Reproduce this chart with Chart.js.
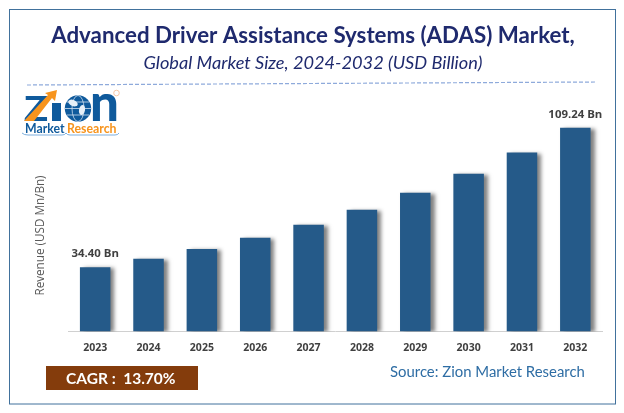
<!DOCTYPE html>
<html><head><meta charset="utf-8">
<style>html,body{margin:0;padding:0;background:#fff}#w{position:relative;width:624px;height:413px}canvas{display:block}</style>
<script src="https://cdn.jsdelivr.net/npm/chart.js@4"></script></head>
<body><div id="w"><canvas id="c" width="624" height="413"></canvas></div>
<script>
const years = ['2023','2024','2025','2026','2027','2028','2029','2030','2031','2032'];
const revenue = [34.40,38.9,44.2,50.2,57.2,65.2,74.3,84.5,95.9,109.24];
const endLabels = {0:'34.40 Bn',9:'109.24 Bn'};
const titleText = 'Advanced Driver Assistance Systems (ADAS) Market,';
const subtitleText = 'Global Market Size, 2024-2032 (USD Billion)';
const yAxisTitle = 'Revenue (USD Mn/Bn)';
const cagrText = 'CAGR :  13.70%';
const sourceText = 'Source: Zion Market Research';

function drawLogo(x){
  x.save();
  const blue='#0f5a9c', orange='#f7941d';
  x.textBaseline='alphabetic'; x.textAlign='left';
  x.fillStyle=blue;
  x.save(); x.translate(24,121); x.scale(1.15,1); x.font='900 35px Lato'; x.fillText('Z',0,0); x.restore();
  x.fillRect(52,103,9,18);
  x.font='900 51px Lato'; x.fillText('n',90,121);
  x.fillStyle=orange; x.beginPath();
  x.moveTo(24,121); x.lineTo(48,95); x.lineTo(45,93); x.lineTo(57,90); x.lineTo(55,101); x.lineTo(52,98); x.lineTo(34,121); x.closePath(); x.fill();
  x.fillStyle=blue; x.beginPath(); x.arc(78,108.5,13.2,0,7); x.fill();
  x.strokeStyle='#cfe0f0'; x.lineWidth=.8;
  x.beginPath(); x.ellipse(78,108.5,6,13,0,0,7); x.moveTo(65,108.5); x.lineTo(91,108.5); x.moveTo(67,102); x.lineTo(89,102); x.moveTo(67,115); x.lineTo(89,115); x.stroke();
  x.fillStyle='#e6eff7'; x.beginPath(); x.ellipse(73,103,5,3,.4,0,7); x.fill();
  x.beginPath(); x.ellipse(82,110,3,5,.2,0,7); x.fill();
  x.strokeStyle='#f4b183'; x.lineWidth=.7; x.beginPath(); x.arc(116.5,93,2.8,0,7); x.stroke();
  x.font='bold 12.3px Lato';
  x.fillStyle=blue; x.fillText('Market',25,133);
  x.fillStyle=orange; x.fillText('Research',67,133);
  x.strokeStyle='#5b9bd5'; x.lineWidth=.8; x.beginPath(); x.moveTo(22,133); x.quadraticCurveTo(24,135,28,135); x.lineTo(62,135); x.quadraticCurveTo(65,135,66,133); x.quadraticCurveTo(67,135,70,135); x.lineTo(115,135); x.quadraticCurveTo(118,135,119,133); x.stroke();
  x.restore();
}
const decor = {
  id:'decor',
  beforeDraw(ch){
    const x=ch.ctx; x.save();
    x.fillStyle='#fff'; x.fillRect(0,0,624,413);
    x.strokeStyle='#41719c'; x.lineWidth=1; x.strokeRect(9.5,9.5,606,394.5);
    x.strokeStyle='#8eaadb'; x.setLineDash([4,2]); x.lineWidth=1.2;
    x.beginPath(); x.moveTo(27,85); x.lineTo(596,82); x.stroke(); x.setLineDash([]);
    x.restore();
  },
  afterDraw(ch){
    const x=ch.ctx; x.save();
    x.fillStyle='#843c0c'; x.fillRect(46,366,152,24);
    x.fillStyle='#fff'; x.font='bold 15.5px Lato'; x.textAlign='left'; x.textBaseline='middle';
    x.fillText(cagrText,66,378.5);
    x.fillStyle='#2e6da4'; x.font='14.9px Lato'; x.fillText(sourceText,390,372.5);
    x.save(); x.translate(41,235.5); x.rotate(-Math.PI/2); x.textAlign='center'; x.fillStyle='#595959'; x.font='11.7px "Open Sans"'; x.fillText(yAxisTitle,0,0); x.restore();
    drawLogo(x);
    x.restore();
  }
};
const shadow = {
  id:'shadow',
  beforeDatasetDraw(ch){const x=ch.ctx; x.save(); x.shadowColor='rgba(0,0,0,.5)'; x.shadowBlur=4; x.shadowOffsetX=4; x.shadowOffsetY=1;},
  afterDatasetDraw(ch){
    const x=ch.ctx; x.restore(); x.save();
    const m=ch.getDatasetMeta(0);
    x.fillStyle='#404040'; x.font='bold 11.4px "Open Sans"'; x.textAlign='center'; x.textBaseline='alphabetic';
    Object.keys(endLabels).forEach(i=>{const b=m.data[i]; x.fillText(endLabels[i],b.x,b.y-10);});
    x.restore();
  }
};
new Chart(document.getElementById('c'),{
  type:'bar',
  data:{labels:years,datasets:[{data:revenue,backgroundColor:'#255a89',barPercentage:.572,categoryPercentage:1}]},
  plugins:[decor,shadow],
  options:{
    responsive:false,animation:false,
    layout:{padding:{left:24,right:22,top:22,bottom:49}},
    plugins:{
      legend:{display:false},tooltip:{enabled:false},
      title:{display:true,text:titleText,color:'#1f2a6e',font:{family:'Lato',weight:'bold',size:22.3},padding:{top:0,bottom:3}},
      subtitle:{display:true,text:subtitleText,color:'#1f2a6e',font:{family:'Lato',style:'italic',size:18.2},padding:{top:0,bottom:34}}
    },
    scales:{
      x:{grid:{display:false,drawTicks:false},border:{color:'#d0d0d0',width:1},
         ticks:{color:'#404040',font:{family:'Open Sans',weight:'bold',size:10.5},padding:10,maxRotation:0}},
      y:{min:0,max:120,grid:{display:false,drawTicks:false},border:{display:false},
         ticks:{display:false},afterFit(s){s.width=44.5;}}
    }
  }
});
</script></body></html>
